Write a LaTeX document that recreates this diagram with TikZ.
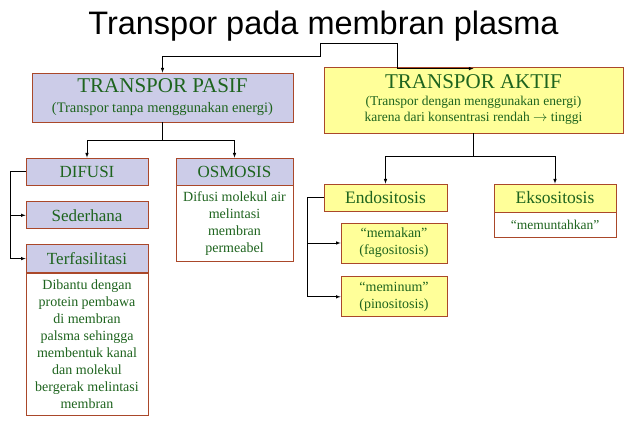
\documentclass[tikz,border=0pt]{standalone}
\usepackage{fontspec}
\setmainfont{Liberation Serif}
\newfontfamily\titlefont{Liberation Sans}
\usetikzlibrary{calc}
\usetikzlibrary{positioning}

\definecolor{lavender}{RGB}{204,204,232}
\definecolor{lightyellow}{RGB}{255,255,153}
\definecolor{boxborder}{RGB}{170,72,42}
\definecolor{textgreen}{RGB}{30,100,30}

\begin{document}
\begin{tikzpicture}[]
      \tikzstyle{pasifbox} = [draw=boxborder, fill=lavender, text=textgreen, line width=0.8pt, inner sep=0pt, align=center]
      \tikzstyle{aktifbox} = [draw=boxborder, fill=lightyellow, text=textgreen, line width=0.8pt, inner sep=0pt, align=center]
      \tikzstyle{bodybox} = [draw=boxborder, fill=white, text=textgreen, line width=0.8pt, inner sep=0pt, align=center, font=\fontsize{14}{17}\selectfont]
      \tikzstyle{arrow} = [->, >=latex, line width=0.6pt]
      \tikzstyle{link} = [line width=0.6pt]

      \useasboundingbox (0,0) rectangle (638pt,-435pt);

      \node (title) [anchor=base] at (323.5pt,-35pt) {\titlefont\fontsize{32.5}{36}\selectfont Transpor pada membran plasma};
      \coordinate (split) at (320pt,-43pt);

      \node (pasif) [pasifbox, minimum width=261pt, minimum height=49pt, font=\fontsize{14.5}{20}\selectfont] at (162.5pt,-97.5pt) {{\fontsize{21}{20}\selectfont TRANSPOR PASIF}\\(Transpor tanpa menggunakan energi)};
      \node (aktif) [aktifbox, minimum width=299pt, minimum height=66pt, font=\fontsize{13.5}{16}\selectfont] at (473.5pt,-100pt) {{\fontsize{21}{20}\selectfont TRANSPOR AKTIF}\\[1pt](Transpor dengan menggunakan energi)\\karena dari konsentrasi rendah $\rightarrow$ tinggi};

      \node (difusi) [pasifbox, minimum width=122pt, minimum height=27pt, font=\fontsize{17}{20}\selectfont] at (87pt,-171.5pt) {DIFUSI};
      \node (sederhana) [pasifbox, minimum width=122pt, minimum height=27pt, font=\fontsize{17}{20}\selectfont, below=16pt of difusi] {Sederhana};
      \node (terfasilitasi) [pasifbox, minimum width=122pt, minimum height=28pt, font=\fontsize{17}{20}\selectfont, below=15pt of sederhana] {Terfasilitasi};
      \node (terfasilitasiBody) [bodybox, minimum width=122pt, minimum height=142pt, below=0pt of terfasilitasi] {Dibantu dengan\\protein pembawa\\di membran\\palsma sehingga\\membentuk kanal\\dan molekul\\bergerak melintasi\\membran};

      \node (osmosis) [pasifbox, minimum width=117pt, minimum height=27pt, font=\fontsize{17}{20}\selectfont] at (234.5pt,-171.5pt) {OSMOSIS};
      \node (osmosisBody) [bodybox, minimum width=117pt, minimum height=76pt, below=0pt of osmosis] {Difusi molekul air\\melintasi\\membran\\permeabel};

      \node (endositosis) [aktifbox, minimum width=123pt, minimum height=27pt, font=\fontsize{17.5}{20}\selectfont] at (385.5pt,-197.5pt) {Endositosis};
      \node (memakan) [aktifbox, minimum width=106pt, minimum height=40pt, font=\fontsize{14}{17}\selectfont] at (394pt,-243pt) {“memakan”\\(fagositosis)};
      \node (meminum) [aktifbox, minimum width=106pt, minimum height=40pt, font=\fontsize{14}{17}\selectfont, below=13pt of memakan] {“meminum”\\(pinositosis)};

      \node (eksositosis) [aktifbox, minimum width=122pt, minimum height=28pt, font=\fontsize{17.5}{20}\selectfont] at (555pt,-198pt) {Eksositosis};
      \node (eksositosisBody) [bodybox, minimum width=122pt, minimum height=25pt, font=\fontsize{13.5}{15}\selectfont, below=0pt of eksositosis] {“memuntahkan”};

      % connectors
      \draw[arrow] (split) -- ++(0,-13pt) -| (pasif.north);
      \draw[arrow] (split) -| ($(aktif.north)+(-76pt,-2pt)$) -- ($(aktif.north)+(0,-2pt)$);

      \draw[link] (pasif.south) -- ++(0,-18pt) coordinate (pasifFork);
      \draw[arrow] (pasifFork) -| (difusi.north);
      \draw[arrow] (pasifFork) -| (osmosis.north);

      \draw[link] (aktif.south) -- ++(0,-23pt) coordinate (aktifFork);
      \draw[arrow] (aktifFork) -| (endositosis.north);
      \draw[arrow] (aktifFork) -| (eksositosis.north);

      \draw[link] (difusi.west) -- ++(-15pt,0) coordinate (difusiBend);
      \draw[arrow] (difusiBend) |- (sederhana.west);
      \draw[arrow] (difusiBend) |- (terfasilitasi.west);

      \draw[link] (endositosis.west) -- ++(-16pt,0) coordinate (endositosisBend);
      \draw[arrow] (endositosisBend) |- (memakan.west);
      \draw[arrow] (endositosisBend) |- (meminum.west);
\end{tikzpicture}
\end{document}
